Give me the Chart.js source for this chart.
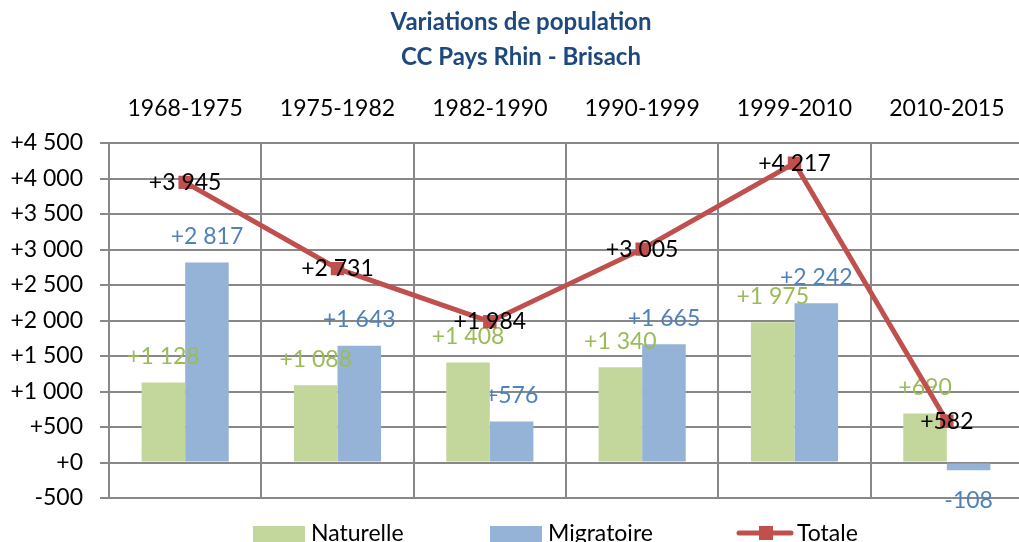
<!DOCTYPE html>
<html lang="fr">
<head>
<meta charset="utf-8">
<title>Variations de population - CC Pays Rhin - Brisach</title>
<script src="https://cdn.jsdelivr.net/npm/chart.js@4.4.1/dist/chart.umd.min.js"></script>
<style>
    html, body { margin: 0; padding: 0; overflow: hidden; background: #ffffff; }
    #wrap { position: relative; width: 1019px; height: 542px; overflow: hidden; }
    #chart { position: absolute; left: 0; top: 0; }
</style>
</head>
<body>
<div id="wrap"><canvas id="chart" width="1040" height="542"></canvas></div>
<script>
// données
const periodes = ['1968-1975', '1975-1982', '1982-1990', '1990-1999', '1999-2010', '2010-2015'];
const naturelle = [1128, 1088, 1408, 1340, 1975, 690];
const migratoire = [2817, 1643, 576, 1665, 2242, -108];
const totale = [3945, 2731, 1984, 3005, 4217, 582];
const titre = ['Variations de population', 'CC Pays Rhin - Brisach'];
const yMin = -500;
const yMax = 4500;
const yPas = 500;

// couleurs (palette Excel)
const VERT = '#C3D69B';
const BLEU = '#95B3D7';
const ROUGE = '#C0504D';
const GRILLE = '#888888';
const couleursEtiquettes = ['#9BBB59', '#4F81BD', '#000000'];

Chart.defaults.font.family = 'Lato, "Open Sans", sans-serif';
Chart.defaults.color = '#000000';

// "+4 500", "+0", "-108"
function fmt(v) {
    const s = Math.abs(v).toString().replace(/\B(?=(\d{3})+(?!\d))/g, ' ');
    return (v < 0 ? '-' : '+') + s;
}

// étiquettes de données, dessinées juste après chaque série
const etiquettes = {
    id: 'etiquettes',
    afterDatasetDraw(chart, args) {
        const ds = chart.data.datasets[args.index];
        const meta = args.meta;
        const ctx = chart.ctx;
        ctx.save();
        ctx.font = '23px Lato';
        ctx.textAlign = 'center';
        ctx.textBaseline = 'middle';
        ctx.fillStyle = couleursEtiquettes[args.index];
        meta.data.forEach((el, i) => {
            const v = ds.data[i];
            let y = el.y;
            if (meta.type === 'bar') {
                y = v >= 0 ? el.y - 26 : el.y + 30;
            }
            ctx.fillText(fmt(v), el.x, y);
        });
        ctx.restore();
    }
};

// titre + légende en bas
const habillage = {
    id: 'habillage',
    afterDraw(chart) {
        const ctx = chart.ctx;
        ctx.save();
        ctx.fillStyle = '#1F497D';
        ctx.font = 'bold 24px Lato';
        ctx.textAlign = 'center';
        ctx.textBaseline = 'middle';
        ctx.fillText(titre[0], 521, 22);
        ctx.fillText(titre[1], 521, 57);

        // légende
        ctx.font = '23px Lato';
        ctx.textAlign = 'left';
        ctx.textBaseline = 'alphabetic';
        ctx.fillStyle = VERT;
        ctx.fillRect(253, 526, 52, 16);
        ctx.fillStyle = BLEU;
        ctx.fillRect(490, 526, 52, 16);
        ctx.strokeStyle = ROUGE;
        ctx.lineWidth = 5;
        ctx.lineCap = 'round';
        ctx.beginPath();
        ctx.moveTo(739, 533);
        ctx.lineTo(791, 533);
        ctx.stroke();
        ctx.fillStyle = ROUGE;
        ctx.fillRect(759, 526, 14, 14);
        ctx.fillStyle = '#000000';
        const noms = chart.data.datasets.map(d => d.label);
        ctx.fillText(noms[0], 311, 541);
        ctx.fillText(noms[1], 548, 541);
        ctx.fillText(noms[2], 797, 541);
        ctx.restore();
    }
};

new Chart(document.getElementById('chart'), {
    type: 'bar',
    data: {
        labels: periodes,
        datasets: [
            {
                label: 'Naturelle',
                data: naturelle,
                backgroundColor: VERT,
                borderWidth: 0,
                order: 1
            },
            {
                label: 'Migratoire',
                data: migratoire,
                backgroundColor: BLEU,
                borderWidth: 0,
                order: 2
            },
            {
                type: 'line',
                label: 'Totale',
                data: totale,
                borderColor: ROUGE,
                backgroundColor: ROUGE,
                borderWidth: 5,
                tension: 0,
                pointStyle: 'rect',
                pointRadius: 9.5,
                pointBorderWidth: 0,
                pointBackgroundColor: ROUGE,
                order: 0
            }
        ]
    },
    options: {
        responsive: false,
        animation: false,
        layout: { padding: { left: 0, right: 17, top: 0, bottom: 44 } },
        categoryPercentage: 0.572,
        barPercentage: 1.0,
        plugins: {
            legend: { display: false },
            title: { display: false },
            tooltip: { enabled: false }
        },
        scales: {
            x: {
                position: 'top',
                afterFit: (scale) => { scale.height = 143; },
                grid: {
                    color: GRILLE,
                    lineWidth: 2,
                    offset: true,
                    drawTicks: false
                },
                border: { color: GRILLE, width: 2 },
                ticks: {
                    font: { size: 23 },
                    color: '#000000',
                    padding: 21,
                    maxRotation: 0
                }
            },
            y: {
                min: yMin,
                max: yMax,
                afterFit: (scale) => { scale.width = 109; },
                grid: {
                    color: GRILLE,
                    lineWidth: 2,
                    tickLength: 9
                },
                border: { color: GRILLE, width: 2 },
                ticks: {
                    stepSize: yPas,
                    font: { size: 23 },
                    color: '#000000',
                    padding: 17,
                    callback: (v) => fmt(v)
                }
            }
        }
    },
    plugins: [etiquettes, habillage]
});
</script>
</body>
</html>
